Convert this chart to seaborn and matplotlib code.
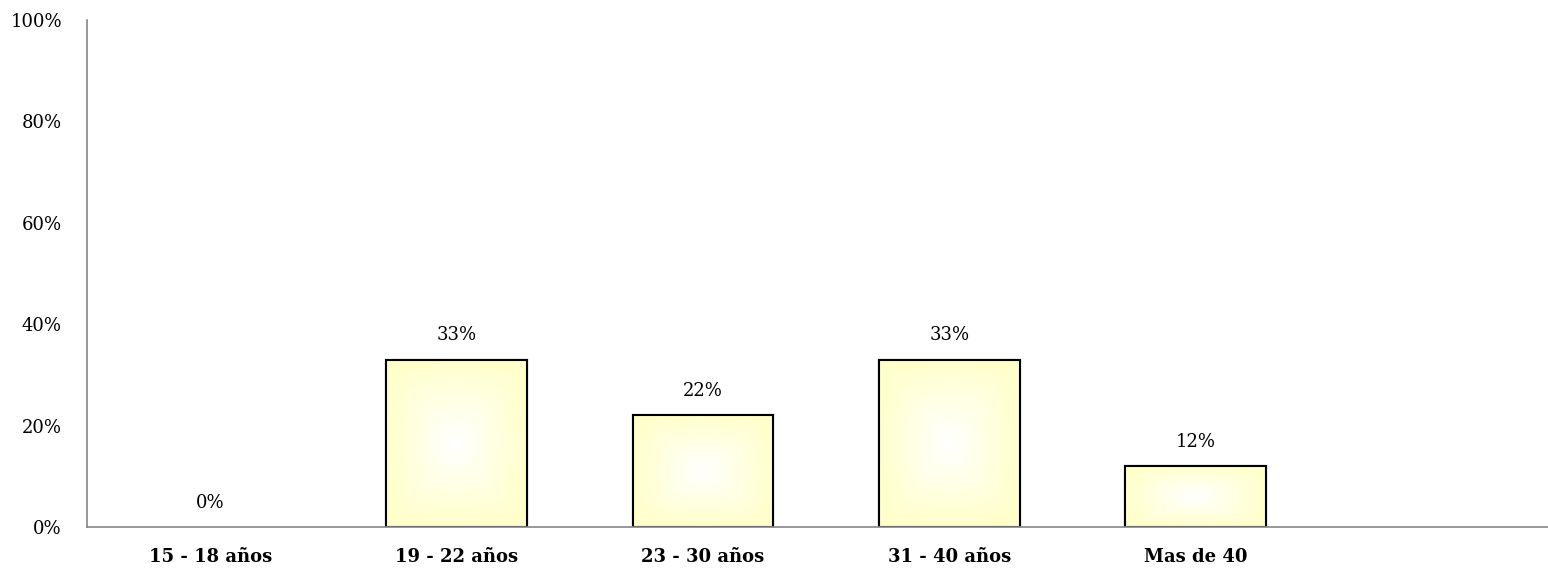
import numpy as np
import pandas as pd
import matplotlib
matplotlib.use("Agg")
import matplotlib.pyplot as plt
import seaborn as sns

# data
categorias = ["15 - 18 años", "19 - 22 años", "23 - 30 años", "31 - 40 años", "Mas de 40", ""]
porcentajes = [0, 33, 22, 33, 12, np.nan]

df = pd.DataFrame({"grupo": categorias, "pct": porcentajes})

sns.set_style("white")
plt.rcParams["font.family"] = ["DejaVu Serif"]
plt.rcParams["text.color"] = "black"
plt.rcParams["xtick.color"] = "black"
plt.rcParams["ytick.color"] = "black"

fig = plt.figure(figsize=(15.48, 5.73), dpi=100)
ax = fig.add_axes([87 / 1548, 1 - 527 / 573, (1548 - 87) / 1548, (527 - 20) / 573])

sns.barplot(data=df, x="grupo", y="pct", ax=ax, color="#FFFFCC",
            width=0.57, edgecolor="black", linewidth=1.5, errorbar=None)

# radial-ish gradient: white centre to pale yellow edges
yy, xx = np.mgrid[-1:1:200j, -1:1:200j]
d = np.clip(np.maximum(np.abs(xx), np.abs(yy)) * 0.6 + np.hypot(xx, yy) * 0.4, 0, 1)
c0 = np.array([1.0, 1.0, 1.0])
c1 = np.array([1.0, 1.0, 0.80])
img = c0 + (c1 - c0) * d[..., None]

for p in ax.patches:
    h = p.get_height()
    if not h or np.isnan(h):
        p.set_linewidth(0)
        continue
    x0 = p.get_x()
    w = p.get_width()
    im = ax.imshow(img, extent=[x0, x0 + w, 0, h], aspect="auto", zorder=p.get_zorder() + 0.1,
                   interpolation="bilinear")
    im.set_clip_path(p)
    ax.add_patch(plt.Rectangle((x0, 0), w, h, fill=False, edgecolor="black",
                               linewidth=1.5, zorder=p.get_zorder() + 0.2))

for i, v in enumerate(porcentajes):
    if np.isnan(v):
        continue
    ax.text(i, v + 3, f"{v:.0f}%", ha="center", va="bottom", fontsize=13)

ax.set_xlim(-0.5, 5.43)
ax.set_ylim(0, 100)
ax.set_yticks(np.arange(0, 101, 20))
ax.set_yticklabels([f"{t}%" for t in range(0, 101, 20)], fontsize=13)
ax.set_xticks(range(len(categorias)))
ax.set_xticklabels(categorias, fontsize=13, fontweight="bold")
ax.tick_params(axis="both", length=0)
ax.tick_params(axis="y", pad=18)
ax.tick_params(axis="x", pad=15)
ax.set_xlabel("")
ax.set_ylabel("")

for s in ["top", "right"]:
    ax.spines[s].set_visible(False)
for s in ["left", "bottom"]:
    ax.spines[s].set_color("#868686")
    ax.spines[s].set_linewidth(1.2)

fig.savefig("out.png", dpi=100)
